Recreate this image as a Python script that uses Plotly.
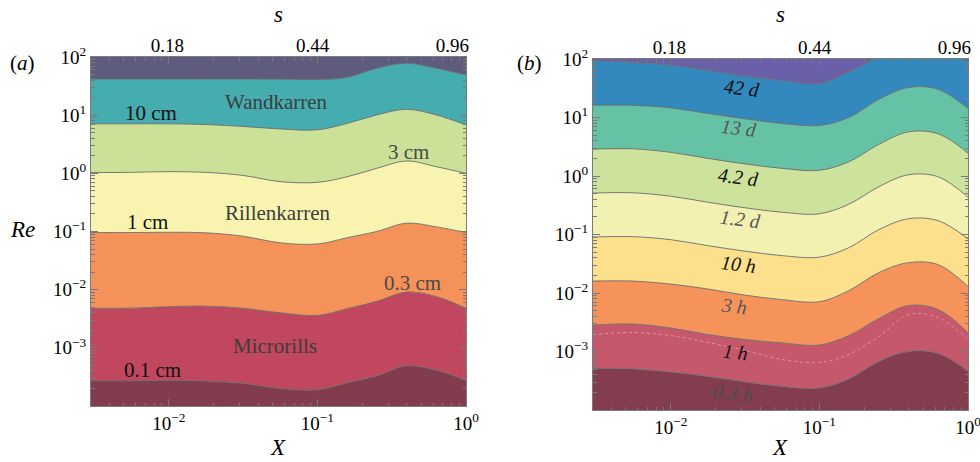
import plotly.graph_objects as go
import math

W, H = 980, 462

# ---------------- data ----------------
X = [0.003, 0.0056, 0.01, 0.0178, 0.0316, 0.0562, 0.1, 0.158, 0.251, 0.398, 0.631, 1.0]

# Panel (a): Re along each contour boundary (bottom -> top)
re_a_01cm = [2.7e-4, 2.7e-4, 2.75e-4, 2.7e-4, 2.45e-4, 2.0e-4, 1.9e-4, 2.5e-4, 3.3e-4, 4.9e-4, 4.15e-4, 2.75e-4]
re_a_03cm = [4.8e-3, 4.8e-3, 5.1e-3, 5.2e-3, 4.8e-3, 4.0e-3, 3.6e-3, 4.7e-3, 6.3e-3, 9.1e-3, 7.6e-3, 4.8e-3]
re_a_1cm = [0.096, 0.096, 0.097, 0.095, 0.083, 0.064, 0.061, 0.078, 0.1, 0.139, 0.12, 0.096]
re_a_3cm = [1.03, 1.04, 1.07, 1.04, 0.92, 0.72, 0.70, 0.87, 1.22, 1.63, 1.30, 1.0]
re_a_10cm = [7.1, 7.1, 7.1, 6.9, 6.4, 5.8, 5.6, 7.2, 10.1, 12.6, 10.1, 6.8]
re_a_30cm = [42, 42, 42, 42, 42, 41.5, 41, 44.5, 64, 78, 64, 49]

# Panel (b): Re along each contour boundary (bottom -> top)
re_b_03h = [5.13e-4, 5.02e-4, 4.47e-4, 3.74e-4, 3.02e-4, 2.53e-4, 2.38e-4, 3.4e-4, 6.75e-4, 1.0e-3, 9.25e-4, 4.61e-4]
re_b_1h = [2.83e-3, 2.94e-3, 2.52e-3, 1.95e-3, 1.6e-3, 1.4e-3, 1.29e-3, 1.87e-3, 3.66e-3, 6.1e-3, 5.21e-3, 2.08e-3]
re_b_3h = [0.016, 0.016, 0.0142, 0.0117, 0.0092, 0.0077, 0.0071, 0.011, 0.0223, 0.033, 0.0305, 0.0129]
re_b_10h = [0.0906, 0.0917, 0.0815, 0.0644, 0.0519, 0.0435, 0.041, 0.0596, 0.121, 0.186, 0.172, 0.0848]
re_b_12d = [0.511, 0.516, 0.451, 0.356, 0.286, 0.24, 0.226, 0.329, 0.655, 1.05, 0.968, 0.434]
re_b_42d_low = [2.88, 2.91, 2.54, 2.0, 1.61, 1.35, 1.25, 1.75, 3.47, 5.68, 5.25, 2.46]
re_b_13d = [16.2, 16.1, 14.6, 11.7, 9.5, 7.9, 7.3, 10.0, 20.4, 32.6, 30.2, 14.4]
re_b_42d = [95, 87, 79, 64, 51, 43, 38, 60, 110, 195, 195, 89]
re_b_2h_faint = [1.95e-3, 2.11e-3, 1.87e-3, 1.43e-3, 1.04e-3, 7.3e-4, 6.49e-4, 8.89e-4, 1.8e-3, 4.28e-3, 3.8e-3, 1.6e-3]

bounds_a = [re_a_01cm, re_a_03cm, re_a_1cm, re_a_3cm, re_a_10cm, re_a_30cm]
colors_a = ["#833b4e", "#c0475e", "#f5925a", "#f8f4b0", "#cce198", "#45adb0", "#5e5b7e"]

bounds_b = [re_b_03h, re_b_1h, re_b_3h, re_b_10h, re_b_12d, re_b_42d_low, re_b_13d, re_b_42d]
colors_b = ["#843c4f", "#c5586a", "#f5935a", "#fde08b", "#f2f1b2", "#cde29a", "#66c2a5", "#3388bd", "#6a60aa"]

y_tickvals = [1e-3, 1e-2, 1e-1, 1, 10, 100]
y_ticktext = ["10<sup>−3</sup>", "10<sup>−2</sup>", "10<sup>−1</sup>", "10<sup>0</sup>", "10<sup>1</sup>", "10<sup>2</sup>"]
x_tickvals = [0.01, 0.1, 1]
x_ticktext = ["10<sup>−2</sup>", "10<sup>−1</sup>", "10<sup>0</sup>"]
# top axis: s values and the X at which they sit
s_tickpos = [0.0098, 0.093, 0.81]
s_ticktext = ["0.18", "0.44", "0.96"]

labels_a = [("Wandkarren", 276, 102, "#3d3d3d"), ("10 cm", 151, 113, "#111111"),
            ("3 cm", 408, 152, "#4a4a4a"), ("Rillenkarren", 277, 213, "#3d3d3d"),
            ("1 cm", 147, 222, "#111111"), ("0.3 cm", 412, 283, "#4a4a4a"),
            ("Microrills", 275, 346, "#3d3d3d"), ("0.1 cm", 152, 370, "#111111")]
labels_b = [("42 d", 742, 88, "#111111"), ("13 d", 739, 128, "#555555"),
            ("4.2 d", 738, 177, "#111111"), ("1.2 d", 740, 219, "#555555"),
            ("10 h", 738, 264, "#111111"), ("3 h", 734, 306, "#555555"),
            ("1 h", 735, 352, "#111111"), ("0.3 h", 733, 393, "#4d4d4d")]

# ---------------- figure ----------------
FONT = "Liberation Serif"
FRAME = "#7a7a7a"
LINE = "#6a6a6a"
FLOOR, CEIL = 1e-6, 1e4

fig = go.Figure()


def add_panel(xa, ya, bounds, colors):
    fig.add_trace(go.Scatter(x=X, y=[FLOOR] * len(X), xaxis=xa, yaxis=ya, mode="lines",
                             line=dict(width=0), showlegend=False, hoverinfo="skip"))
    for b, c in zip(bounds, colors[:-1]):
        fig.add_trace(go.Scatter(x=X, y=b, xaxis=xa, yaxis=ya, mode="lines", fill="tonexty",
                                 fillcolor=c, line=dict(color=LINE, width=0.9, shape="spline", smoothing=1.0),
                                 showlegend=False, hoverinfo="skip"))
    fig.add_trace(go.Scatter(x=X, y=[CEIL] * len(X), xaxis=xa, yaxis=ya, mode="lines", fill="tonexty",
                             fillcolor=colors[-1], line=dict(width=0), showlegend=False, hoverinfo="skip"))


add_panel("x", "y", bounds_a, colors_a)
add_panel("x2", "y2", bounds_b, colors_b)

# faint contour inside the 1 h band of panel (b)
fig.add_trace(go.Scatter(x=X, y=re_b_2h_faint, xaxis="x2", yaxis="y2", mode="lines",
                         line=dict(color="rgba(255,255,255,0.45)", width=0.8, dash="dot", shape="spline"),
                         showlegend=False, hoverinfo="skip"))

# dummy traces so the top (s) axes exist
for xa, ya in (("x3", "y"), ("x4", "y2")):
    fig.add_trace(go.Scatter(x=X, y=re_a_1cm, xaxis=xa, yaxis=ya, mode="markers",
                             marker=dict(opacity=0), showlegend=False, hoverinfo="skip"))

xr = [math.log10(0.003), 0]
yr = [-4, 2]
minor_x = [k * 10 ** d for d in (-3, -2, -1) for k in range(2, 10) if k * 10 ** d >= 0.003]
minor_y = [k * 10 ** d for d in (-4, -3, -2, -1, 0, 1) for k in range(2, 10)]

tickfont = dict(family=FONT, size=19, color="black")


def dx(l, r):
    return [l / W, r / W]


def dy(t, b):
    return [1 - b / H, 1 - t / H]


def xaxis(dom, anchor):
    return dict(domain=dom, anchor=anchor, type="log", range=xr, tickmode="array", automargin=False,
                tickvals=x_tickvals, ticktext=x_ticktext, ticks="inside", ticklen=7, tickwidth=1,
                tickcolor=FRAME, showline=True, linecolor=FRAME, linewidth=1, mirror="ticks",
                showgrid=False, zeroline=False, tickfont=tickfont, ticklabeloverflow="allow",
                minor=dict(tickmode="array", tickvals=minor_x, ticks="inside", ticklen=3.5,
                           tickcolor=FRAME, showgrid=False))


def yaxis(dom, anchor):
    return dict(domain=dom, anchor=anchor, type="log", range=yr, tickmode="array", automargin=False,
                tickvals=y_tickvals, ticktext=y_ticktext, ticks="inside", ticklen=7, tickwidth=1,
                tickcolor=FRAME, showline=True, linecolor=FRAME, linewidth=1, mirror="ticks",
                showgrid=False, zeroline=False, tickfont=tickfont, ticklabeloverflow="allow",
                minor=dict(tickmode="array", tickvals=minor_y, ticks="inside", ticklen=3.5,
                           tickcolor=FRAME, showgrid=False))


def saxis(over, anchor):
    return dict(overlaying=over, anchor=anchor, side="top", type="log", range=xr, tickmode="array",
                automargin=False, tickvals=s_tickpos, ticktext=s_ticktext, ticks="", showline=False,
                showgrid=False, zeroline=False, tickfont=tickfont, ticklabeloverflow="allow")


annotations = []


def ann(text, px, py, size, color="black", angle=0, italic=False):
    annotations.append(dict(text=("<i>%s</i>" % text) if italic else text, x=px / W, y=1 - py / H,
                            xref="paper", yref="paper", showarrow=False, textangle=angle,
                            font=dict(family=FONT, size=size, color=color),
                            xanchor="center", yanchor="middle"))


for t, px, py, c in labels_a:
    ann(t, px, py, 21, c)
for t, px, py, c in labels_b:
    ann(t, px, py, 20, c, angle=7, italic=True)

ann("(<i>a</i>)", 22, 63, 21)
ann("(<i>b</i>)", 529, 63, 21)
ann("s", 278, 15, 23, italic=True)
ann("s", 780, 15, 23, italic=True)
ann("X", 278, 447, 23, italic=True)
ann("X", 780, 447, 23, italic=True)
ann("Re", 22, 229, 23, italic=True)

fig.update_layout(
    width=W, height=H, margin=dict(l=0, r=0, t=0, b=0, autoexpand=False),
    paper_bgcolor="white", plot_bgcolor="white", showlegend=False,
    xaxis=xaxis(dx(91, 466), "y"), yaxis=yaxis(dy(57, 406), "x"),
    xaxis2=xaxis(dx(593, 968), "y2"), yaxis2=yaxis(dy(59, 410), "x2"),
    xaxis3=saxis("x", "y"), xaxis4=saxis("x2", "y2"),
    annotations=annotations,
)

fig.write_html("out.html", config={"displayModeBar": False, "staticPlot": True},
               post_script="document.body.style.margin='0';document.body.style.padding='0';")
